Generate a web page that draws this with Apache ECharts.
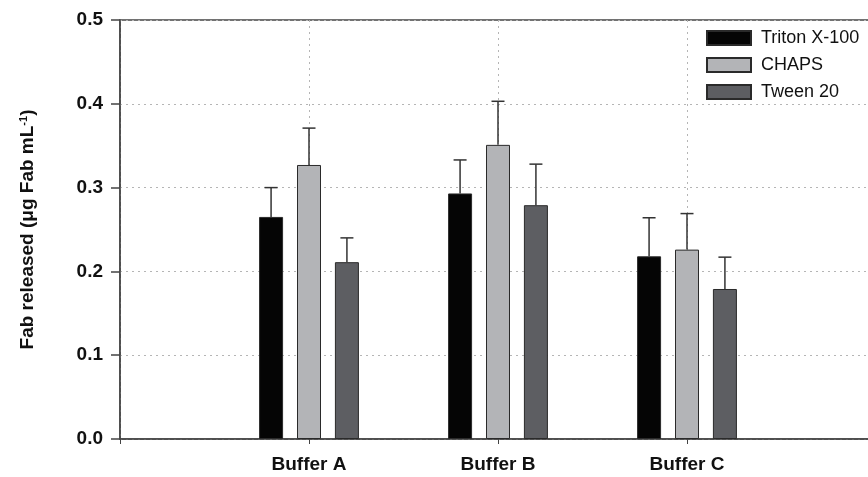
<!DOCTYPE html>
<html>
<head>
<meta charset="utf-8">
<script src="https://cdn.jsdelivr.net/npm/echarts@6/dist/echarts.min.js"></script>
<style>html,body{margin:0;padding:0;background:#fff}#c{width:868px;height:477px}</style>
</head>
<body>
<div id="c"></div>
<script>
// ---- data ----
var categories = ['', 'Buffer A', 'Buffer B', 'Buffer C', ''];
var seriesNames = ['Triton X-100', 'CHAPS', 'Tween 20'];
var tritonMean = ['-', 0.265, 0.293, 0.218, '-'];
var chapsMean  = ['-', 0.327, 0.351, 0.226, '-'];
var tweenMean  = ['-', 0.211, 0.279, 0.179, '-'];
var tritonErr  = ['-', 0.035, 0.040, 0.046, '-'];
var chapsErr   = ['-', 0.044, 0.052, 0.043, '-'];
var tweenErr   = ['-', 0.029, 0.049, 0.038, '-'];
var yTicks = [0.0, 0.1, 0.2, 0.3, 0.4, 0.5];

var colors = ['#050505', '#b3b4b7', '#5d5e62'];
var BAR_W = 24;
var BAR_GAP = 0.58;
var means = [tritonMean, chapsMean, tweenMean];
var errs = [tritonErr, chapsErr, tweenErr];

var chart = echarts.init(document.getElementById('c'), null, {renderer: 'canvas'});

var gapPx = BAR_W * BAR_GAP;
var totalW = 3 * BAR_W + 2 * gapPx;
function offsetOf(i) { return -totalW / 2 + BAR_W / 2 + i * (BAR_W + gapPx); }

var series = [];
seriesNames.forEach(function (name, i) {
  series.push({
    name: name,
    type: 'bar',
    data: means[i],
    barWidth: BAR_W,
    barGap: (BAR_GAP * 100) + '%',
    itemStyle: {color: colors[i], borderColor: '#2a2a2a', borderWidth: 1},
    z: 2
  });
});
seriesNames.forEach(function (name, i) {
  var d = [];
  for (var k = 0; k < categories.length; k++) {
    if (means[i][k] !== '-') d.push([k, means[i][k], means[i][k] + errs[i][k]]);
  }
  series.push({
    type: 'custom',
    name: name + ' err',
    data: d,
    z: 3,
    silent: true,
    renderItem: function (params, api) {
      var x = api.value(0);
      var p0 = api.coord([x, api.value(1)]);
      var p1 = api.coord([x, api.value(2)]);
      var cx = p0[0] + offsetOf(i);
      var cap = 6.5;
      return {
        type: 'group',
        children: [
          {type: 'line', shape: {x1: cx, y1: p0[1], x2: cx, y2: p1[1]}, style: {stroke: '#333', lineWidth: 1.5}},
          {type: 'line', shape: {x1: cx - cap, y1: p1[1], x2: cx + cap, y2: p1[1]}, style: {stroke: '#333', lineWidth: 1.5}}
        ]
      };
    }
  });
});

chart.setOption({
  animation: false,
  backgroundColor: '#fff',
  grid: {left: 120, top: 20, bottom: 38, right: -8, outerBoundsMode: 'none', containLabel: false,
    show: true, borderColor: '#444', borderWidth: 1.5},
  legend: {
    data: seriesNames,
    icon: 'rect',
    orient: 'vertical',
    left: 701, top: 24,
    itemWidth: 44, itemHeight: 14, itemGap: 9,
    textStyle: {fontFamily: 'Liberation Sans, Arial', fontSize: 18, color: '#111', padding: [0, 0, 0, 5]}
  },
  xAxis: {
    type: 'category',
    data: categories,
    boundaryGap: false,
    axisLine: {lineStyle: {color: '#444', width: 1.5}},
    axisTick: {show: true, length: 5, lineStyle: {color: '#444'}},
    axisLabel: {fontFamily: 'Liberation Sans, Arial', fontWeight: 'bold', fontSize: 19, color: '#111', margin: 16, interval: 0},
    splitLine: {show: true, lineStyle: {color: '#b5b5b5', type: [2, 4], width: 1}}
  },
  yAxis: {
    type: 'value',
    min: yTicks[0], max: yTicks[yTicks.length - 1], interval: 0.1,
    name: 'Fab released (μg Fab mL{sup|-1})',
    nameLocation: 'middle',
    nameGap: 82,
    nameRotate: 90,
    nameTextStyle: {
      fontFamily: 'Liberation Sans, Arial', fontWeight: 'bold', fontSize: 19, color: '#111',
      rich: {sup: {fontSize: 11, fontWeight: 'bold', fontFamily: 'Liberation Sans, Arial', color: '#111', verticalAlign: 'top', padding: [0, 0, 9, 0]}}
    },
    axisLine: {show: true, lineStyle: {color: '#444', width: 1.5}},
    axisTick: {show: true, length: 9, lineStyle: {color: '#444', width: 1.5}},
    axisLabel: {fontFamily: 'Liberation Sans, Arial', fontWeight: 'bold', fontSize: 19, color: '#111', margin: 17,
      formatter: function (v) { return v.toFixed(1); }},
    splitLine: {show: true, lineStyle: {color: '#b5b5b5', type: [2, 4], width: 1}}
  },
  series: series
});
</script>
</body>
</html>
